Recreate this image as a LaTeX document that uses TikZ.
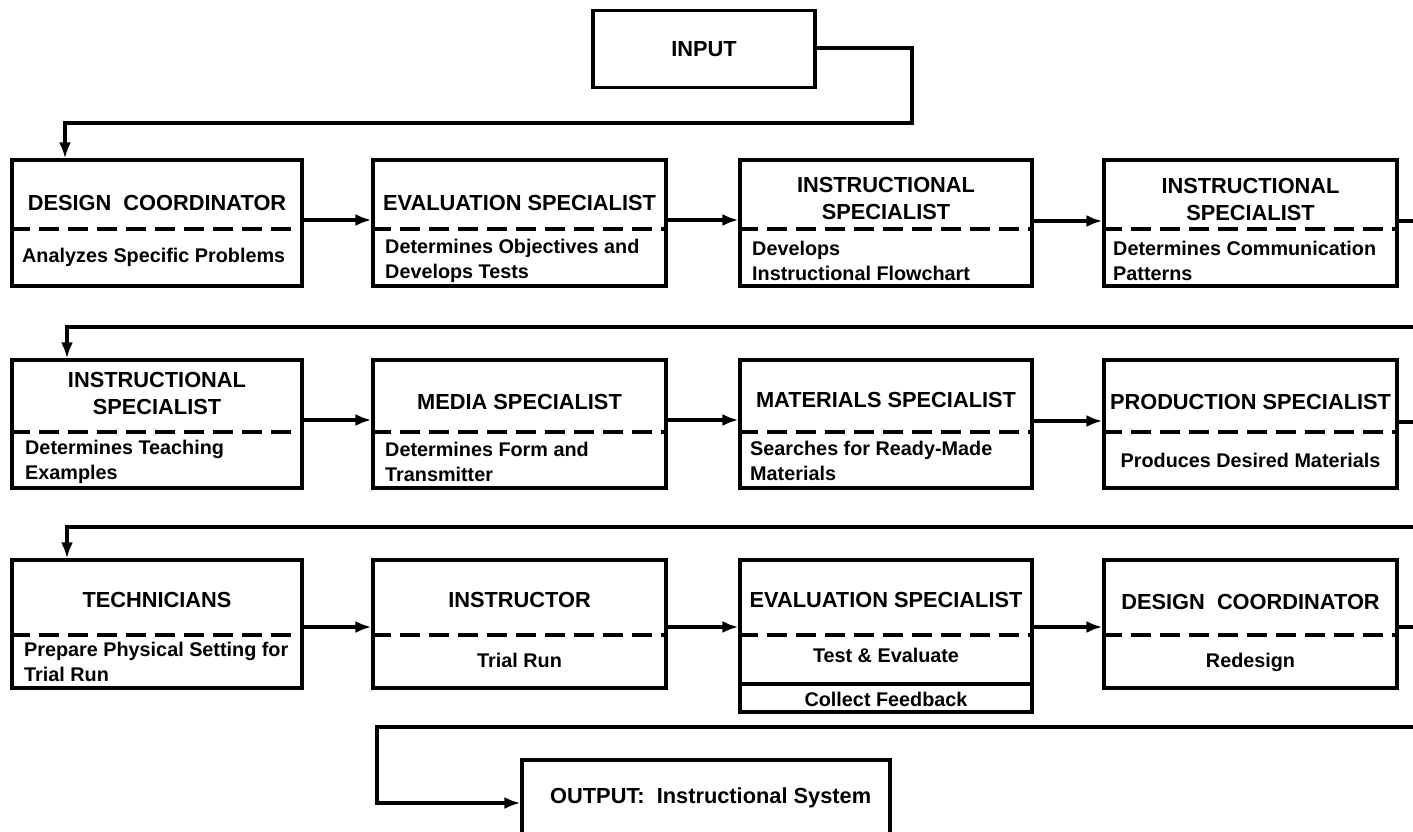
\documentclass[tikz,border=0pt]{standalone}
\usepackage{fontspec}
\setmainfont{Liberation Sans}
\usetikzlibrary{arrows.meta}
\begin{document}
\begin{tikzpicture}[x=1pt,y=-1pt,
  lw/.style={line width=3.2pt},
  stagebox/.style={draw,lw,inner sep=0pt,minimum width=#1},
  divider/.style={lw,dash pattern=on 20pt off 9pt},
  conn/.style={lw,line join=miter},
  arr/.style={lw,-{Latex[length=16pt,width=12pt]}},
  ttl/.style={font=\bfseries\fontsize{21.8}{27}\selectfont,align=center,inner sep=0pt},
  sub/.style={font=\bfseries\fontsize{19.8}{25.5}\selectfont,align=left,inner sep=0pt,anchor=west},
  subc/.style={font=\bfseries\fontsize{19.8}{25.5}\selectfont,align=center,inner sep=0pt}]
\fill[white] (0,0) rectangle (1413,832);
\clip (0,0) rectangle (1413,832);
\useasboundingbox (0,0) rectangle (1413,832);

% INPUT
\node[stagebox=222pt,minimum height=77pt] (in) at (704,49) {};
\node[ttl] at (in.center) {INPUT};

% Row 1
\node[stagebox=290pt,minimum height=126pt] (b11) at (157,223) {};
\node[stagebox=293pt,minimum height=126pt] (b12) at (519.5,223) {};
\node[stagebox=292pt,minimum height=126pt] (b13) at (886,223) {};
\node[stagebox=293pt,minimum height=126pt] (b14) at (1250.5,223) {};
\foreach \b in {b11,b12,b13,b14}{\draw[divider] (\b.west |- 0,229) -- (\b.east |- 0,229);}
\node[ttl] (t11) at (157,203) {DESIGN\ \ COORDINATOR};
\node[sub] (s11) at (22,257) {Analyzes Specific Problems};
\node[ttl] (t12) at (519.5,203) {EVALUATION SPECIALIST};
\node[sub] (s12) at (385,261) {Determines Objectives and\\Develops Tests};
\node[ttl] (t13) at (886,198) {INSTRUCTIONAL\\SPECIALIST};
\node[sub] (s13) at (752,261) {Develops\\Instructional Flowchart};
\node[ttl] (t14) at (1250.5,199) {INSTRUCTIONAL\\SPECIALIST};
\node[sub] (s14) at (1113,261) {Determines Communication\\Patterns};

% Row 2
\node[stagebox=290pt,minimum height=128pt] (b21) at (157,424) {};
\node[stagebox=293pt,minimum height=128pt] (b22) at (519.5,424) {};
\node[stagebox=292pt,minimum height=128pt] (b23) at (886,424) {};
\node[stagebox=293pt,minimum height=128pt] (b24) at (1250.5,424) {};
\foreach \b in {b21,b22,b23,b24}{\draw[divider] (\b.west |- 0,432) -- (\b.east |- 0,432);}
\node[ttl] (t21) at (157,393) {INSTRUCTIONAL\\SPECIALIST};
\node[sub] (s21) at (25,462) {Determines Teaching\\Examples};
\node[ttl] (t22) at (519.5,402) {MEDIA SPECIALIST};
\node[sub] (s22) at (385,462) {Determines Form and\\Transmitter};
\node[ttl] (t23) at (886,400) {MATERIALS SPECIALIST};
\node[sub] (s23) at (750,461) {Searches for Ready-Made\\Materials};
\node[ttl] (t24) at (1250.5,402) {PRODUCTION SPECIALIST};
\node[subc] (s24) at (1250.5,460) {Produces Desired Materials};

% Row 3
\node[stagebox=290pt,minimum height=128pt] (b31) at (157,624) {};
\node[stagebox=293pt,minimum height=128pt] (b32) at (519.5,624) {};
\node[stagebox=292pt,minimum height=152pt] (b33) at (886,636) {};
\node[stagebox=293pt,minimum height=128pt] (b34) at (1250.5,624) {};
\foreach \b in {b31,b32,b33,b34}{\draw[divider] (\b.west |- 0,635) -- (\b.east |- 0,635);}
\draw[lw] (b33.west |- 0,684) -- (b33.east |- 0,684);
\node[ttl] (t31) at (157,600) {TECHNICIANS};
\node[sub] (s31) at (24,662) {Prepare Physical Setting for\\Trial Run};
\node[ttl] (t32) at (519.5,600) {INSTRUCTOR};
\node[subc] (s32) at (519.5,660) {Trial Run};
\node[ttl] (t33) at (886,600) {EVALUATION SPECIALIST};
\node[subc] (s33) at (886,655) {Test \& Evaluate};
\node[subc] (f33) at (886,699) {Collect Feedback};
\node[ttl] (t34) at (1250.5,602) {DESIGN\ \ COORDINATOR};
\node[subc] (s34) at (1250.5,662) {Redesign};

% OUTPUT
\node[stagebox=368pt,minimum height=100pt] (out) at (706,810) {};
\node[ttl,anchor=west] (tout) at (550,798) {OUTPUT:\ \ Instructional System};

% edge coordinates
\coordinate (E1) at (1413,221);
\coordinate (E2) at (1413,327);
\coordinate (E3) at (1413,422);
\coordinate (E4) at (1413,527);
\coordinate (E5) at (1413,627);
\coordinate (E6) at (1413,727);

% connectors
\draw[arr] (in.east |- 0,48) -- (912,48) -- (912,123) -- (65,123) -- (b11.north -| 65,0);
\draw[arr] (b11.east |- 0,220) -- (b12.west |- 0,220);
\draw[arr] (b12.east |- 0,220) -- (b13.west |- 0,220);
\draw[arr] (b13.east |- 0,221) -- (b14.west |- 0,221);
\draw[conn] (b14.east |- E1) -- (E1);

\draw[arr] (E2) -- (67,327) -- (b21.north -| 67,0);
\draw[arr] (b21.east |- 0,420) -- (b22.west |- 0,420);
\draw[arr] (b22.east |- 0,420) -- (b23.west |- 0,420);
\draw[arr] (b23.east |- 0,421) -- (b24.west |- 0,421);
\draw[conn] (b24.east |- E3) -- (E3);

\draw[arr] (E4) -- (67,527) -- (b31.north -| 67,0);
\draw[arr] (b31.east |- 0,627) -- (b32.west |- 0,627);
\draw[arr] (b32.east |- 0,627) -- (b33.west |- 0,627);
\draw[arr] (b33.east |- 0,627) -- (b34.west |- 0,627);
\draw[conn] (b34.east |- E5) -- (E5);

\draw[arr] (E6) -- (377,727) -- (377,803) -- (out.west |- 0,803);
\end{tikzpicture}
\end{document}
